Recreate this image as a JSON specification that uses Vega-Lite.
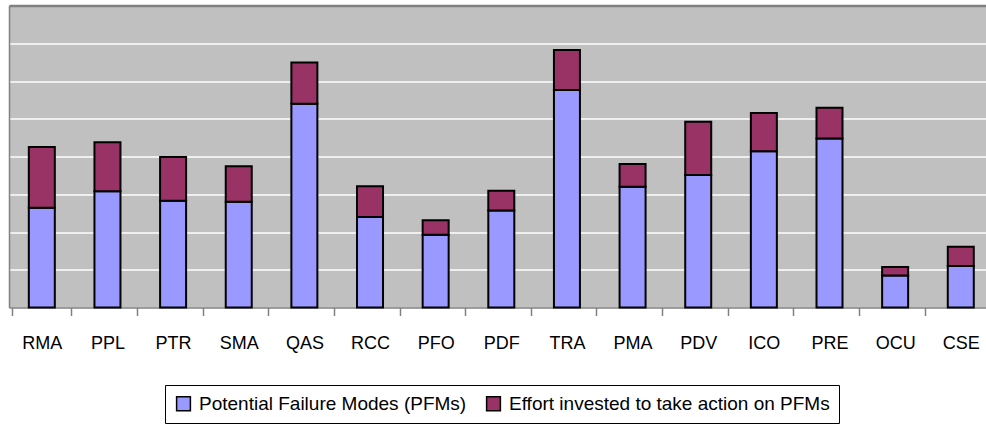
{
  "$schema": "https://vega.github.io/schema/vega-lite/v6.json",
  "autosize": {"type": "none"},
  "padding": {"left": 9, "top": 5.5, "right": 0, "bottom": 116.5},
  "width": 977,
  "height": 302,
  "background": "white",
  "data": {"values": [
    {"code": "RMA", "series": "Potential Failure Modes (PFMs)", "value": 2.64},
    {"code": "RMA", "series": "Effort invested to take action on PFMs", "value": 1.61},
    {"code": "PPL", "series": "Potential Failure Modes (PFMs)", "value": 3.08},
    {"code": "PPL", "series": "Effort invested to take action on PFMs", "value": 1.30},
    {"code": "PTR", "series": "Potential Failure Modes (PFMs)", "value": 2.83},
    {"code": "PTR", "series": "Effort invested to take action on PFMs", "value": 1.16},
    {"code": "SMA", "series": "Potential Failure Modes (PFMs)", "value": 2.80},
    {"code": "SMA", "series": "Effort invested to take action on PFMs", "value": 0.94},
    {"code": "QAS", "series": "Potential Failure Modes (PFMs)", "value": 5.40},
    {"code": "QAS", "series": "Effort invested to take action on PFMs", "value": 1.09},
    {"code": "RCC", "series": "Potential Failure Modes (PFMs)", "value": 2.40},
    {"code": "RCC", "series": "Effort invested to take action on PFMs", "value": 0.81},
    {"code": "PFO", "series": "Potential Failure Modes (PFMs)", "value": 1.93},
    {"code": "PFO", "series": "Effort invested to take action on PFMs", "value": 0.38},
    {"code": "PDF", "series": "Potential Failure Modes (PFMs)", "value": 2.57},
    {"code": "PDF", "series": "Effort invested to take action on PFMs", "value": 0.52},
    {"code": "TRA", "series": "Potential Failure Modes (PFMs)", "value": 5.76},
    {"code": "TRA", "series": "Effort invested to take action on PFMs", "value": 1.06},
    {"code": "PMA", "series": "Potential Failure Modes (PFMs)", "value": 3.20},
    {"code": "PMA", "series": "Effort invested to take action on PFMs", "value": 0.60},
    {"code": "PDV", "series": "Potential Failure Modes (PFMs)", "value": 3.51},
    {"code": "PDV", "series": "Effort invested to take action on PFMs", "value": 1.41},
    {"code": "ICO", "series": "Potential Failure Modes (PFMs)", "value": 4.14},
    {"code": "ICO", "series": "Effort invested to take action on PFMs", "value": 1.01},
    {"code": "PRE", "series": "Potential Failure Modes (PFMs)", "value": 4.48},
    {"code": "PRE", "series": "Effort invested to take action on PFMs", "value": 0.81},
    {"code": "OCU", "series": "Potential Failure Modes (PFMs)", "value": 0.85},
    {"code": "OCU", "series": "Effort invested to take action on PFMs", "value": 0.22},
    {"code": "CSE", "series": "Potential Failure Modes (PFMs)", "value": 1.10},
    {"code": "CSE", "series": "Effort invested to take action on PFMs", "value": 0.51}
  ]},
  "layer": [
    {
      "mark": {"type": "bar", "opacity": 0, "size": 26},
      "encoding": {
        "x": {
          "field": "code", "type": "nominal", "sort": null,
          "scale": {"range": [0, 984.6]},
          "axis": {
            "orient": "top", "title": null, "labels": false, "ticks": false,
            "domain": true, "domainColor": "#808080", "domainWidth": 2.5, "grid": false
          }
        },
        "y": {
          "field": "value", "type": "quantitative", "stack": "zero",
          "scale": {"domain": [0, 8], "nice": false},
          "axis": {
            "title": null, "labels": false, "ticks": false,
            "domain": true, "domainColor": "#808080", "domainWidth": 1.5,
            "grid": true, "gridColor": "white", "gridWidth": 1.5, "gridOpacity": 1,
            "values": [1, 2, 3, 4, 5, 6, 7]
          }
        }
      }
    },
    {
      "mark": {"type": "bar", "size": 26, "stroke": "black", "strokeWidth": 2, "opacity": 1},
      "encoding": {
        "x": {
          "field": "code", "type": "nominal", "sort": null,
          "axis": {
            "orient": "bottom", "title": null, "labelAngle": 0, "tickBand": "extent",
            "domainColor": "#808080", "domainWidth": 1.5,
            "tickColor": "#808080", "tickSize": 8, "tickWidth": 1.5,
            "labelFont": "Liberation Sans, Arial", "labelBaseline": "alphabetic",
            "labelFontSize": 18, "labelColor": "black", "labelPadding": 33,
            "grid": false
          }
        },
        "y": {
          "field": "value", "type": "quantitative", "stack": "zero"
        },
        "color": {
          "field": "series", "type": "nominal",
          "scale": {
            "domain": ["Potential Failure Modes (PFMs)", "Effort invested to take action on PFMs"],
            "range": ["#9999FF", "#993366"]
          },
          "legend": {
            "title": null, "orient": "none", "direction": "horizontal",
            "legendX": 156, "legendY": 379.5,
            "strokeColor": "black", "fillColor": "white", "padding": 9,
            "symbolType": "square", "symbolSize": 190, "symbolStrokeColor": "black",
            "symbolStrokeWidth": 1.5, "symbolOpacity": 1,
            "labelFont": "Liberation Sans, Arial",
            "labelFontSize": 19, "labelColor": "black", "labelLimit": 500,
            "columnPadding": 16, "labelOffset": 6
          }
        },
        "order": {"field": "series", "sort": "descending"}
      }
    }
  ],
  "resolve": {"axis": {"x": "independent"}},
  "config": {
    "view": {"fill": "#C0C0C0", "stroke": null}
  }
}
